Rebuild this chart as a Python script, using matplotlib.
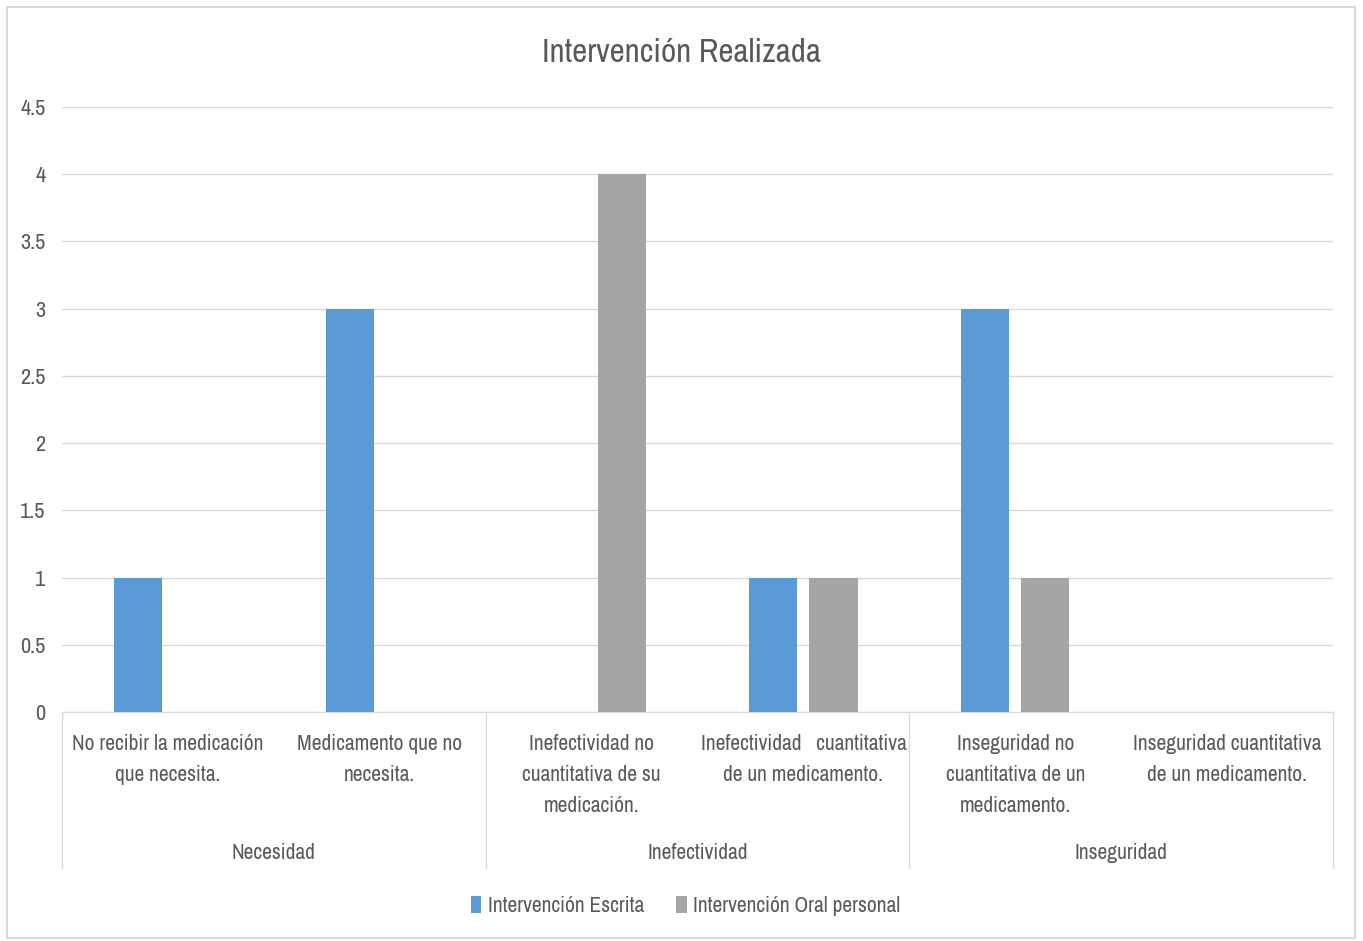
import numpy as np
import matplotlib.pyplot as plt
from matplotlib.patches import Rectangle
from matplotlib import font_manager

# data
categorias = [
    "No recibir la medicación\nque necesita.",
    "Medicamento que no\nnecesita.",
    "Inefectividad no\ncuantitativa de su\nmedicación.",
    "Inefectividad   cuantitativa\nde un medicamento.",
    "Inseguridad no\ncuantitativa de un\nmedicamento.",
    "Inseguridad cuantitativa\nde un medicamento.",
]
grupos = ["Necesidad", "Inefectividad", "Inseguridad"]
escrita = [1, 3, 0, 1, 3, 0]
oral = [0, 0, 4, 1, 1, 0]
series = ["Intervención Escrita", "Intervención Oral personal"]
yticks = [0, 0.5, 1, 1.5, 2, 2.5, 3, 3.5, 4, 4.5]
ytick_labels = ["0", "0.5", "1", "1.5", "2", "2.5", "3", "3.5", "4", "4.5"]

# narrow font if there is one, else Roboto
names = sorted({f.name for f in font_manager.fontManager.ttflist})
narrow = [n for n in names if 'Condensed' in n or 'Narrow' in n]
plt.rcParams['font.family'] = narrow[:1] + ['Roboto', 'DejaVu Sans']
scale = 1.19 if narrow else 1.0

txt = '#595959'
blue = '#5B9BD5'
gray = '#A5A5A5'
line = '#D9D9D9'

fig = plt.figure(figsize=(13.63, 9.41), dpi=100)
ax = fig.add_axes([62 / 1363, 1 - 712 / 941, (1333 - 62) / 1363, (712 - 107) / 941])

# outer chart border
fig.patches.append(Rectangle((7 / 1363, 3 / 941), 1348 / 1363, 931 / 941,
                             transform=fig.transFigure, fill=False,
                             edgecolor=line, linewidth=1.5))

x = np.arange(len(categorias))
w = 0.227
off = 0.142
ax.bar(x - off, escrita, w, color=blue, label=series[0], zorder=3)
ax.bar(x + off, oral, w, color=gray, label=series[1], zorder=3)

ax.set_xlim(-0.5, len(categorias) - 0.5)
ax.set_ylim(0, 4.5)
ax.set_yticks(yticks)
ax.set_yticklabels(ytick_labels)
ax.tick_params(axis='y', length=0, pad=12, labelsize=13.5 * scale, labelcolor=txt)
ax.set_xticks([])
ax.grid(axis='y', color=line, linewidth=1, zorder=0)
for s in ['top', 'right', 'left']:
    ax.spines[s].set_visible(False)
ax.spines['bottom'].set_color(line)

fs = 13 * scale
tr = ax.get_xaxis_transform()
for i, lab in enumerate(categorias):
    ax.text(i, -0.036, lab, transform=tr, ha='center', va='top',
            fontsize=fs, color=txt, linespacing=1.68)

for k, g in enumerate(grupos):
    ax.text(2 * k + 0.5, -0.233, g, transform=tr, ha='center', va='center',
            fontsize=fs, color=txt)

for b in [-0.5, 1.5, 3.5, 5.5]:
    ax.plot([b, b], [0, -0.258], transform=tr, color=line, linewidth=1,
            clip_on=False)

fig.text(0.5, 1 - 53 / 941, "Intervención Realizada", ha='center', va='center',
         fontsize=20 * scale, color=txt)

fig.legend(loc='center', bbox_to_anchor=(0.503, 1 - 906 / 941), ncol=2,
           frameon=False, fontsize=fs, labelcolor=txt, handlelength=0.5,
           handleheight=0.8, handletextpad=0.3, columnspacing=1.5)

fig.savefig('out.png', dpi=100)
